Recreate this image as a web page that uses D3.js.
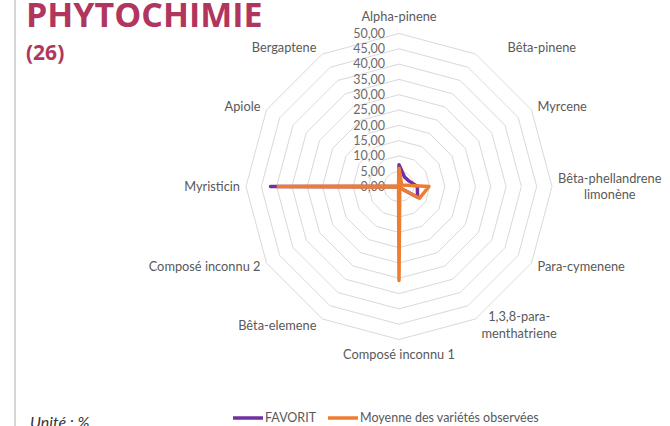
<!DOCTYPE html>
<html>
<head>
<meta charset="utf-8">
<script src="https://cdn.jsdelivr.net/npm/d3@7"></script>
<style>
  body { margin: 0; background: #fff; }
  text { font-family: Lato, "Open Sans", sans-serif; }
</style>
</head>
<body>
<div id="container"></div>
<script>
/* CONSTANTS AND GLOBALS */
const width = 670,
  height = 426,
  cx = 399, cy = 186.5,
  radius = 153;

// axes, clockwise from the top
const categories = [
  "Alpha-pinene", "Bêta-pinene", "Myrcene", "Bêta-phellandrene\nlimonène",
  "Para-cymenene", "1,3,8-para-\nmenthatriene", "Composé inconnu 1",
  "Bêta-elemene", "Composé inconnu 2", "Myristicin", "Apiole", "Bergaptene"
];
const favorit = [7.1, 3.6, 3.7, 6.0, 7.0, 0.5, 0.3, 0.2, 0.2, 42.0, 0.2, 0.2];
const moyenne = [6.0, 1.5, 1.0, 9.8, 7.7, 0.5, 30.7, 0.3, 0.3, 39.5, 0.3, 0.3];
const ticks = [0, 5, 10, 15, 20, 25, 30, 35, 40, 45, 50];
const seriesNames = ["FAVORIT", "Moyenne des variétés observées"];
const seriesColors = ["#7030a0", "#ed7d31"];

const svg = d3.select("#container").append("svg")
  .attr("width", width)
  .attr("height", height);

// left frame line
svg.append("line")
  .attr("x1", 15).attr("x2", 15).attr("y1", 0).attr("y2", height)
  .attr("stroke", "#d6d6d6").attr("stroke-width", 2);

// title
svg.append("text")
  .attr("x", 26).attr("y", 27)
  .attr("fill", "#b0365e")
  .style("font-family", "'Open Sans', sans-serif")
  .style("font-weight", 700)
  .style("font-size", "34px")
  .text("PHYTOCHIMIE");
svg.append("text")
  .attr("x", 26).attr("y", 60)
  .attr("fill", "#b0365e")
  .style("font-family", "'Open Sans', sans-serif")
  .style("font-weight", 700)
  .style("font-size", "21px")
  .text("(26)");

// SCALES
const angle = d3.scalePoint()
  .domain(d3.range(categories.length))
  .range([0, 2 * Math.PI * (categories.length - 1) / categories.length]);
const r = d3.scaleLinear().domain([0, 50]).range([0, radius]);

const pt = (i, v) => {
  const a = angle(i);
  return [cx + Math.sin(a) * r(v), cy - Math.cos(a) * r(v)];
};

const g = svg.append("g");

// GRID RINGS
const ringLine = d3.line().curve(d3.curveLinearClosed);
g.selectAll("path.ring")
  .data(ticks.filter(t => t > 0))
  .join("path")
  .attr("class", "ring")
  .attr("d", t => ringLine(categories.map((c, i) => pt(i, t))))
  .attr("fill", "none")
  .attr("stroke", "#d9d9d9")
  .attr("stroke-width", 1);

// TICK LABELS
g.selectAll("text.tick")
  .data(ticks)
  .join("text")
  .attr("class", "tick")
  .attr("x", cx - 14)
  .attr("y", t => cy - r(t))
  .attr("dy", "0.35em")
  .attr("text-anchor", "end")
  .attr("fill", "#6b6b6b")
  .style("font-size", "12.5px")
  .text(t => d3.format(".2f")(t).replace(".", ","));

// CATEGORY LABELS
const nudge = { 1: 26 };
categories.forEach((c, i) => {
  const a = angle(i);
  const s = Math.sin(a), co = Math.cos(a);
  const [vx, vy] = pt(i, 50);
  const lines = c.split("\n");
  const t = g.append("text")
    .attr("fill", "#595959")
    .style("font-size", "12.8px");
  lines.forEach(l => t.append("tspan").text(l));
  const wMax = d3.max(t.selectAll("tspan").nodes(), n => n.getComputedTextLength());
  let x, y;
  if (Math.abs(s) < 0.01) {
    x = vx;
    y = co > 0 ? vy - 17 : vy + 15;
  } else {
    const side = s > 0 ? 1 : -1;
    x = vx + side * (6 + (nudge[i] || 0)) + side * wMax / 2;
    y = vy - 7 * co;
  }
  const lh = 16.5;
  t.selectAll("tspan")
    .attr("x", x)
    .attr("text-anchor", "middle")
    .attr("y", (d, k) => y + (k - (lines.length - 1) / 2) * lh)
    .attr("dy", "0.35em");
});

// SERIES
const series = [favorit, moyenne];
g.selectAll("path.series")
  .data(series)
  .join("path")
  .attr("class", "series")
  .attr("d", vals => ringLine(vals.map((v, i) => pt(i, v))))
  .attr("fill", "none")
  .attr("stroke", (d, i) => seriesColors[i])
  .attr("stroke-width", 3.5)
  .attr("stroke-linejoin", "round");

// LEGEND
const legend = svg.append("g").attr("transform", "translate(233,418)");
const lx = [0, 95];
seriesNames.forEach((n, i) => {
  legend.append("line")
    .attr("x1", lx[i]).attr("x2", lx[i] + 30)
    .attr("y1", 0).attr("y2", 0)
    .attr("stroke", seriesColors[i]).attr("stroke-width", 3.5);
  legend.append("text")
    .attr("x", lx[i] + 32).attr("y", 0).attr("dy", "0.35em")
    .attr("fill", "#595959")
    .style("font-size", "12.5px")
    .text(n);
});

// unit note
svg.append("text")
  .attr("x", 30).attr("y", 428)
  .attr("fill", "#333")
  .style("font-style", "italic")
  .style("font-size", "16px")
  .text("Unité : %");
</script>
</body>
</html>
